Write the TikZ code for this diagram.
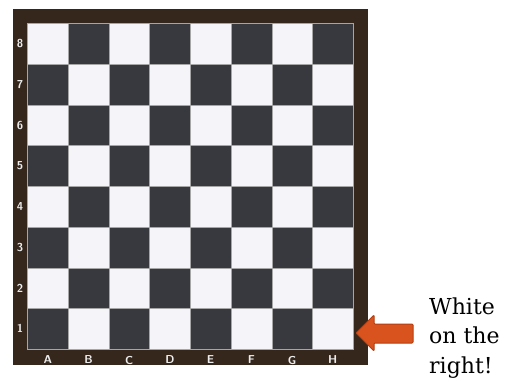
\documentclass[tikz,border=0pt]{standalone}
\usepackage{fontspec}
\usepackage{xcolor}
\usepackage{tikz}
\usetikzlibrary{positioning,calc}
\newfontfamily\notefont{DejaVu Serif}
\definecolor{framebrown}{HTML}{35271C}
\definecolor{darksq}{HTML}{38383F}
\definecolor{lightsq}{HTML}{F5F5F9}
\definecolor{arrowred}{HTML}{D9531E}
\definecolor{arrowedge}{HTML}{B23E12}
\tikzset{
  frame/.style  = {fill=framebrown},
  dsq/.style    = {fill=darksq, draw=gray!70, line width=0.3pt},
  lsq/.style    = {fill=lightsq, draw=gray!70, line width=0.3pt},
  coord/.style  = {font=\sffamily\bfseries\fontsize{11.5}{11.5}\selectfont,
                   text=gray!15, inner sep=0pt},
  pointer/.style= {fill=arrowred, draw=arrowedge, line width=1pt,
                   rounded corners=1pt},
  note/.style   = {font=\notefont\fontsize{22}{29.5}\selectfont,
                   align=left, inner sep=0pt, anchor=base west},
}
\begin{document}
\begin{tikzpicture}[x=1pt, y=-1pt]
\useasboundingbox (0,0) rectangle (506,381);

% board frame
\fill[frame] (13,9) rectangle (368,365);

% squares, a1 in the lower left
\foreach \f in {1,...,8} {
  \foreach \r in {1,...,8} {
    \pgfmathtruncatemacro{\sqpar}{mod(\f+\r,2)}
    \ifnum\sqpar=0
      \path[dsq] ({27.5+40.7*(\f-1)},{23.5+40.7*(8-\r)}) rectangle ++(40.7,40.7);
    \else
      \path[lsq] ({27.5+40.7*(\f-1)},{23.5+40.7*(8-\r)}) rectangle ++(40.7,40.7);
    \fi
  }
}

% rank and file labels
\foreach \r in {1,...,8}
  \node[coord] (rank\r) at (20,{23.5+40.7*(8-\r)+20.35}) {\r};
\foreach \L [count=\f] in {A,B,C,D,E,F,G,H}
  \node[coord] (file\L) at ({27.5+40.7*(\f-1)+20.35},360) {\L};

% pointer to h1
\draw[pointer] (356,333) -- (374,315) -- (374,324) -- (413,324)
  -- (413,343) -- (374,343) -- (374,351) -- cycle;

% base anchor sits on the last line
\node[note] (msg) at (429,373) {White\\on the\\right!};
\end{tikzpicture}
\end{document}
